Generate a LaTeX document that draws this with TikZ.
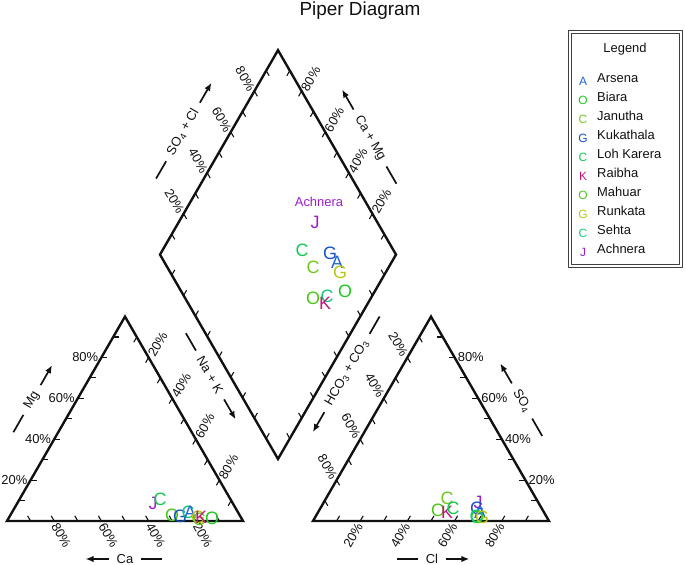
\documentclass[tikz,border=0pt]{standalone}
\usepackage{fontspec}
\setmainfont{Liberation Sans}
\usepackage{tikz}
\usetikzlibrary{arrows.meta,calc}
\definecolor{arsena}{HTML}{1E64DC}
\definecolor{biara}{HTML}{1EC81E}
\definecolor{janutha}{HTML}{6EC81E}
\definecolor{kukathala}{HTML}{1450C8}
\definecolor{lohkarera}{HTML}{14C850}
\definecolor{raibha}{HTML}{C8147A}
\definecolor{mahuar}{HTML}{46C814}
\definecolor{runkata}{HTML}{B4C814}
\definecolor{sehta}{HTML}{14C878}
\definecolor{achnera}{HTML}{9B1EC8}
\definecolor{ink}{HTML}{111111}

\begin{document}
\begin{tikzpicture}[>={Latex[length=8bp,width=6.5bp]}, line join=bevel, ink, text=ink,
  font=\fontsize{13}{15}\selectfont,
  frame/.style={line width=2.4pt, line join=miter},
  tick/.style={line width=1.1pt},
  pct/.style={inner sep=1bp},
  ttl/.style={inner sep=1bp},
  bar/.style={line width=1.7pt},
  smp/.style={font=\fontsize{18}{18}\selectfont, inner sep=0pt},
  key/.style={font=\fontsize{12}{12}\selectfont, inner sep=0pt, anchor=base}]
\useasboundingbox (0,0) rectangle (685bp,565bp);
%%
\node (title) at (360bp,554bp) [font=\fontsize{19}{19}\selectfont] {Piper Diagram};
%% corners
\coordinate (L1) at (7bp,44bp);
  \coordinate (L2) at (243bp,44bp);
  \coordinate (L3) at (125bp,248.4bp);
  \coordinate (R1) at (313bp,44bp);
  \coordinate (R2) at (549bp,44bp);
  \coordinate (R3) at (431bp,248.4bp);
  \coordinate (DB) at (278bp,106bp);
  \coordinate (DL) at (160bp,310.4bp);
  \coordinate (DR) at (396bp,310.4bp);
  \coordinate (DT) at (278bp,514.8bp);
  \draw [frame] (L1) -- (L2) -- (L3) -- cycle;
  \draw [frame] (R1) -- (R2) -- (R3) -- cycle;
  \draw [frame] (DB) -- (DR) -- (DT) -- (DL) -- cycle;
%% ticks
\foreach \i in {1,...,9}{
  \draw [tick] ($(L1)!\i/10!(L2)$) -- ++(120:6bp);
  \draw [tick] ($(L1)!\i/10!(L3)$) -- ++(0:6bp);
  \draw [tick] ($(L3)!\i/10!(L2)$) -- ++(240:6bp);
  \draw [tick] ($(R1)!\i/10!(R2)$) -- ++(60:6bp);
  \draw [tick] ($(R2)!\i/10!(R3)$) -- ++(180:6bp);
  \draw [tick] ($(R3)!\i/10!(R1)$) -- ++(-60:6bp);
  \draw [tick] ($(DL)!\i/10!(DT)$) -- ++(-60:6bp);
  \draw [tick] ($(DR)!\i/10!(DT)$) -- ++(240:6bp);
  \draw [tick] ($(DL)!\i/10!(DB)$) -- ++(60:6bp);
  \draw [tick] ($(DR)!\i/10!(DB)$) -- ++(120:6bp);
}
%% percent labels
\foreach \i in {2,4,6,8}{
  \pgfmathtruncatemacro{\pa}{10*\i}
  \pgfmathtruncatemacro{\pb}{100-10*\i}
  \node (ca\i) at ($(L1)!\i/10!(L2)+(0,-2bp)$) [pct,rotate=-60,anchor=west] {\pb\%};
  \node (mg\i) at ($(L1)!\i/10!(L3)+(-2bp,0)$) [pct,anchor=east] {\pa\%};
  \node (nk\i) at ($(L3)!\i/10!(L2)+(2bp,1bp)$) [pct,rotate=60,anchor=west] {\pa\%};
  \node (cl\i) at ($(R1)!\i/10!(R2)+(0,-2bp)$) [pct,rotate=60,anchor=east] {\pa\%};
  \node (so\i) at ($(R2)!\i/10!(R3)+(2bp,0)$) [pct,anchor=west] {\pa\%};
  \node (hc\i) at ($(R3)!\i/10!(R1)+(-2bp,1bp)$) [pct,rotate=-60,anchor=east] {\pa\%};
  \node (sc\i) at ($(DL)!\i/10!(DT)+(-2bp,0)$) [pct,rotate=-60,anchor=east] {\pa\%};
  \node (cm\i) at ($(DR)!\i/10!(DT)+(2bp,0)$) [pct,rotate=60,anchor=west] {\pa\%};
}
%% axis titles
\node (mgT) at (32bp,165bp) [ttl,rotate=60] {Mg};
  \draw [bar] ($(mgT.west)+(240:7bp)$) -- ++(240:20bp);
  \draw [bar,->] ($(mgT.east)+(60:7bp)$) -- ++(60:23bp);
\node (caT) at (125bp,6bp) [ttl] {Ca};
  \draw [bar,->] ($(caT.west)+(180:7bp)$) -- ++(180:23bp);
  \draw [bar] ($(caT.east)+(0:7bp)$) -- ++(0:21bp);
\node (nkT) at (210bp,190bp) [ttl,rotate=-60] {Na + K};
  \draw [bar] ($(nkT.west)+(120:7bp)$) -- ++(120:20bp);
  \draw [bar,->] ($(nkT.east)+(-60:7bp)$) -- ++(-60:23bp);
\node (hcT) at (347bp,192bp) [ttl,rotate=60] {HCO\textsubscript{3} + CO\textsubscript{3}};
  \draw [bar,->] ($(hcT.west)+(240:7bp)$) -- ++(240:23bp);
  \draw [bar] ($(hcT.east)+(60:7bp)$) -- ++(60:20bp);
\node (soT) at (522bp,164bp) [ttl,rotate=-60] {SO\textsubscript{4}};
  \draw [bar,->] ($(soT.west)+(120:7bp)$) -- ++(120:23bp);
  \draw [bar] ($(soT.east)+(-60:7bp)$) -- ++(-60:20bp);
\node (clT) at (432bp,6bp) [ttl] {Cl};
  \draw [bar] ($(clT.west)+(180:7bp)$) -- ++(180:21bp);
  \draw [bar,->] ($(clT.east)+(0:7bp)$) -- ++(0:23bp);
\node (scT) at (183bp,433bp) [ttl,rotate=60] {SO\textsubscript{4} + Cl};
  \draw [bar] ($(scT.west)+(240:7bp)$) -- ++(240:20bp);
  \draw [bar,->] ($(scT.east)+(60:7bp)$) -- ++(60:23bp);
\node (cmT) at (370bp,427bp) [ttl,rotate=-60] {Ca + Mg};
  \draw [bar,->] ($(cmT.west)+(120:7bp)$) -- ++(120:23bp);
  \draw [bar] ($(cmT.east)+(-60:7bp)$) -- ++(-60:20bp);
%% legend
\node (legendbox) at (625.5bp,416bp) [draw=black!75,line width=0.8pt,
    minimum width=114bp,minimum height=237bp] {};
  \node (legendin) at (625.5bp,416bp) [draw=black!75,line width=0.8pt,
    minimum width=108bp,minimum height=231bp] {};
  \node (legendT) at (625bp,516bp) {Legend};
\foreach \ltr/\nm/\col [count=\k from 0] in {A/Arsena/arsena, O/Biara/biara, C/Janutha/janutha,
    G/Kukathala/kukathala, C/Loh Karera/lohkarera, K/Raibha/raibha, O/Mahuar/mahuar,
    G/Runkata/runkata, C/Sehta/sehta, J/Achnera/achnera}{
  \node (k\k) at (583bp,{(479.5-19*\k)*1bp}) [key,text=\col] {\ltr};
  \node (n\k) at (597bp,{(482.5-19*\k)*1bp}) [anchor=base west,inner sep=0pt] {\nm};
}
%% samples, cation triangle
\node (jL) at (153bp,62bp) [smp,text=achnera] {J};
  \node (lkL) at (160bp,66bp) [smp,text=lohkarera] {C};
  \node (mhL) at (172bp,50bp) [smp,text=mahuar] {O};
  \node (kuL) at (180bp,49bp) [smp,text=kukathala] {G};
  \node (seL) at (188bp,53bp) [smp,text=sehta] {C};
  \node (arL) at (190bp,53bp) [smp,text=arsena] {A};
  \node (ruL) at (198bp,48bp) [smp,text=runkata] {G};
  \node (jaL) at (199bp,46bp) [smp,text=janutha] {C};
  \node (raL) at (201bp,48bp) [smp,text=raibha] {K};
  \node (biL) at (212bp,47bp) [smp,text=biara] {O};
%% samples, anion triangle
\node (jaR) at (447bp,67bp) [smp,text=janutha] {C};
  \node (mhR) at (438bp,55bp) [smp,text=mahuar] {O};
  \node (raR) at (447bp,53bp) [smp,text=raibha] {K};
  \node (lkR) at (453bp,57bp) [smp,text=lohkarera] {C};
  \node (jR) at (478bp,63bp) [smp,text=achnera] {J};
  \node (kuR) at (477bp,57bp) [smp,text=kukathala] {G};
  \node (arR) at (480bp,53bp) [smp,text=arsena] {A};
  \node (biR) at (477bp,48bp) [smp,text=biara] {O};
  \node (seR) at (476bp,49bp) [smp,text=sehta] {C};
  \node (ruR) at (482bp,48bp) [smp,text=runkata] {G};
%% samples, diamond
\node (achT) at (319bp,363bp) [text=achnera] {Achnera};
  \node (jD) at (315bp,343bp) [smp,text=achnera] {J};
  \node (lkD) at (302bp,315bp) [smp,text=lohkarera] {C};
  \node (jaD) at (313bp,298bp) [smp,text=janutha] {C};
  \node (kuD) at (330bp,312bp) [smp,text=kukathala] {G};
  \node (arD) at (337bp,303bp) [smp,text=arsena] {A};
  \node (ruD) at (340bp,293bp) [smp,text=runkata] {G};
  \node (biD) at (345bp,274bp) [smp,text=biara] {O};
  \node (mhD) at (313bp,267bp) [smp,text=mahuar] {O};
  \node (seD) at (327bp,269bp) [smp,text=sehta] {C};
  \node (raD) at (325bp,262bp) [smp,text=raibha] {K};
%
\end{tikzpicture}
\end{document}
